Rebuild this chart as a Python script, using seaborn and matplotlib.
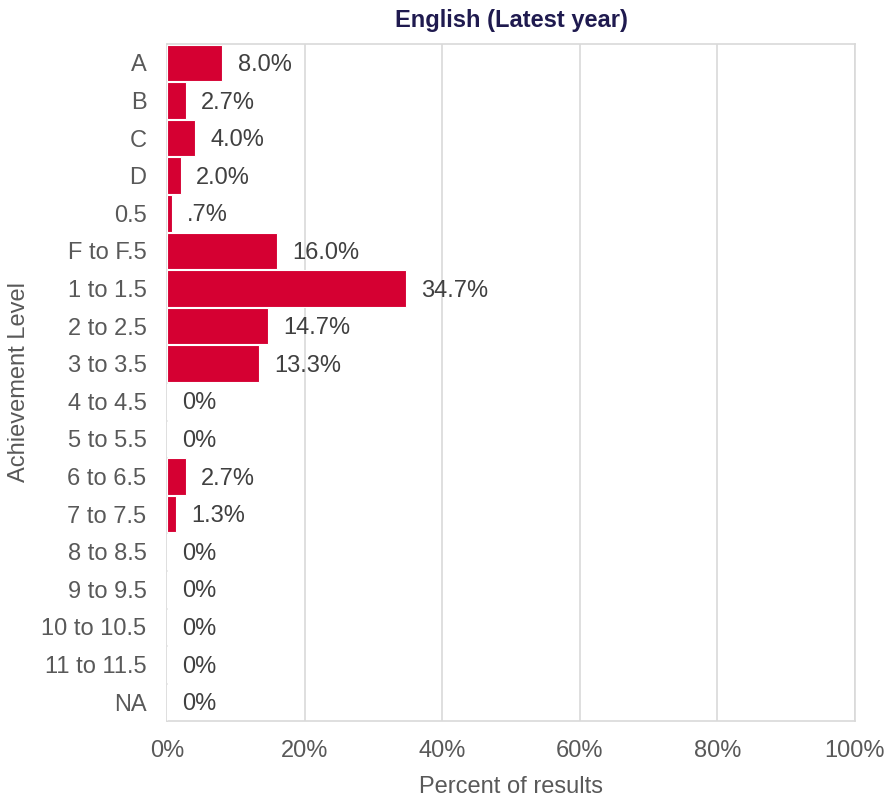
import numpy as np
import pandas as pd
import seaborn as sns
import matplotlib.pyplot as plt
from matplotlib.ticker import PercentFormatter

levels = ["A", "B", "C", "D", "0.5", "F to F.5", "1 to 1.5", "2 to 2.5", "3 to 3.5",
          "4 to 4.5", "5 to 5.5", "6 to 6.5", "7 to 7.5", "8 to 8.5", "9 to 9.5",
          "10 to 10.5", "11 to 11.5", "NA"]
percents = [8.0, 2.7, 4.0, 2.0, 0.7, 16.0, 34.7, 14.7, 13.3,
            0, 0, 2.7, 1.3, 0, 0, 0, 0, 0]
labels = ["8.0%", "2.7%", "4.0%", "2.0%", ".7%", "16.0%", "34.7%", "14.7%", "13.3%",
          "0%", "0%", "2.7%", "1.3%", "0%", "0%", "0%", "0%", "0%"]

df = pd.DataFrame({"Level": levels, "Percent": percents})

sns.set_theme(style="white")
plt.rcParams['font.family'] = ['Liberation Sans', 'DejaVu Sans']

fig, ax = plt.subplots(figsize=(8.85, 8.01), dpi=100)
fig.subplots_adjust(left=0.189, right=0.966, top=0.945, bottom=0.1)

sns.barplot(data=df, x="Percent", y="Level", color="#D50032", saturation=1,
            width=0.97, edgecolor="white", linewidth=0.8, ax=ax, zorder=3)

for i, (v, t) in enumerate(zip(percents, labels)):
    ax.annotate(t, xy=(v, i), xytext=(11, -1.5), textcoords="offset points",
                va="center", ha="left", fontsize=17, color="#404040")

ax.set_xlim(0, 100)
ax.set_ylim(len(levels) - 0.5, -0.5)
ax.xaxis.set_major_formatter(PercentFormatter(decimals=0))
ax.set_xticks([0, 20, 40, 60, 80, 100])
ax.grid(axis="x", color="#D9D9D9", linewidth=1.2, zorder=0)
ax.set_axisbelow(True)
for s in ax.spines.values():
    s.set_color("#D9D9D9")
    s.set_linewidth(1.2)
ax.tick_params(axis="x", length=0, pad=14, labelsize=17, labelcolor="#595959")
ax.tick_params(axis="y", length=0, pad=15, labelsize=17, labelcolor="#595959")

ax.set_xlabel("Percent of results", fontsize=17, color="#595959", labelpad=10)
ax.set_ylabel("Achievement Level", fontsize=17, color="#595959", labelpad=8)
ax.set_title("English (Latest year)", fontsize=17, fontweight="bold", color="#1F1A4F", pad=12)

plt.savefig("out.png", dpi=100)
